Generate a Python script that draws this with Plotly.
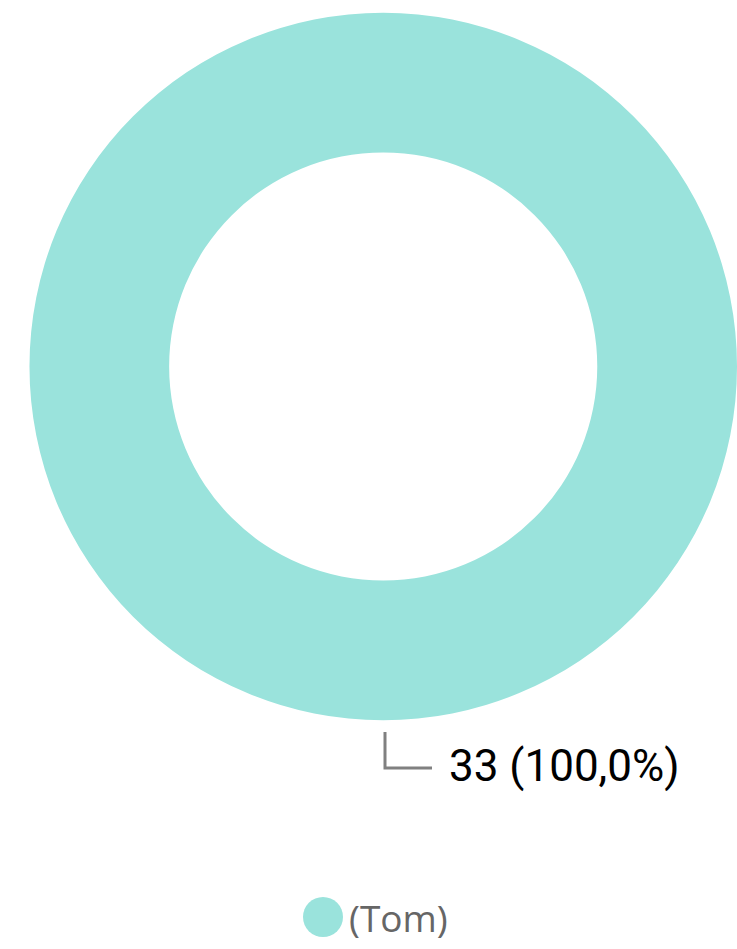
import plotly.graph_objects as go

# Data
categories = ["(Tom)"]
values = [33]
colors = ["#9AE3DC"]

W, H = 737, 949

def px_x(x):
    return x / W

def px_y(y):
    return 1 - y / H

total = sum(values)
label_text = f"{values[0]} ({values[0] / total * 100:.1f}%)".replace(".", ",")

fig = go.Figure()
fig.add_trace(go.Pie(
    labels=categories,
    values=values,
    hole=0.605,
    marker=dict(colors=colors, line=dict(width=0)),
    textposition="none",
    sort=False,
    direction="clockwise",
    showlegend=False,
    hoverinfo="label+value+percent",
    domain=dict(x=[0.04, 1.0], y=[px_y(721), px_y(12)]),
))

shapes = [
    # leader line for the value label
    dict(type="path", xref="paper", yref="paper",
         path=f"M {px_x(385)} {px_y(732)} L {px_x(385)} {px_y(768)} L {px_x(432)} {px_y(768)}",
         line=dict(color="#808080", width=3)),
    # legend marker
    dict(type="circle", xref="paper", yref="paper",
         x0=px_x(303), x1=px_x(343), y0=px_y(937), y1=px_y(897),
         fillcolor=colors[0], line=dict(width=0)),
]

annotations = [
    dict(text=label_text, xref="paper", yref="paper",
         x=px_x(447), y=px_y(766), xanchor="left", yanchor="middle",
         showarrow=False, font=dict(family="Roboto", size=44, color="#000000")),
    dict(text=categories[0], xref="paper", yref="paper",
         x=px_x(347), y=px_y(917), xanchor="left", yanchor="middle",
         showarrow=False, font=dict(family="Open Sans", size=37, color="#666666")),
]

fig.update_layout(
    width=W, height=H,
    margin=dict(l=0, r=0, t=0, b=0),
    paper_bgcolor="white",
    plot_bgcolor="white",
    shapes=shapes,
    annotations=annotations,
)

fig.write_html("out.html")
